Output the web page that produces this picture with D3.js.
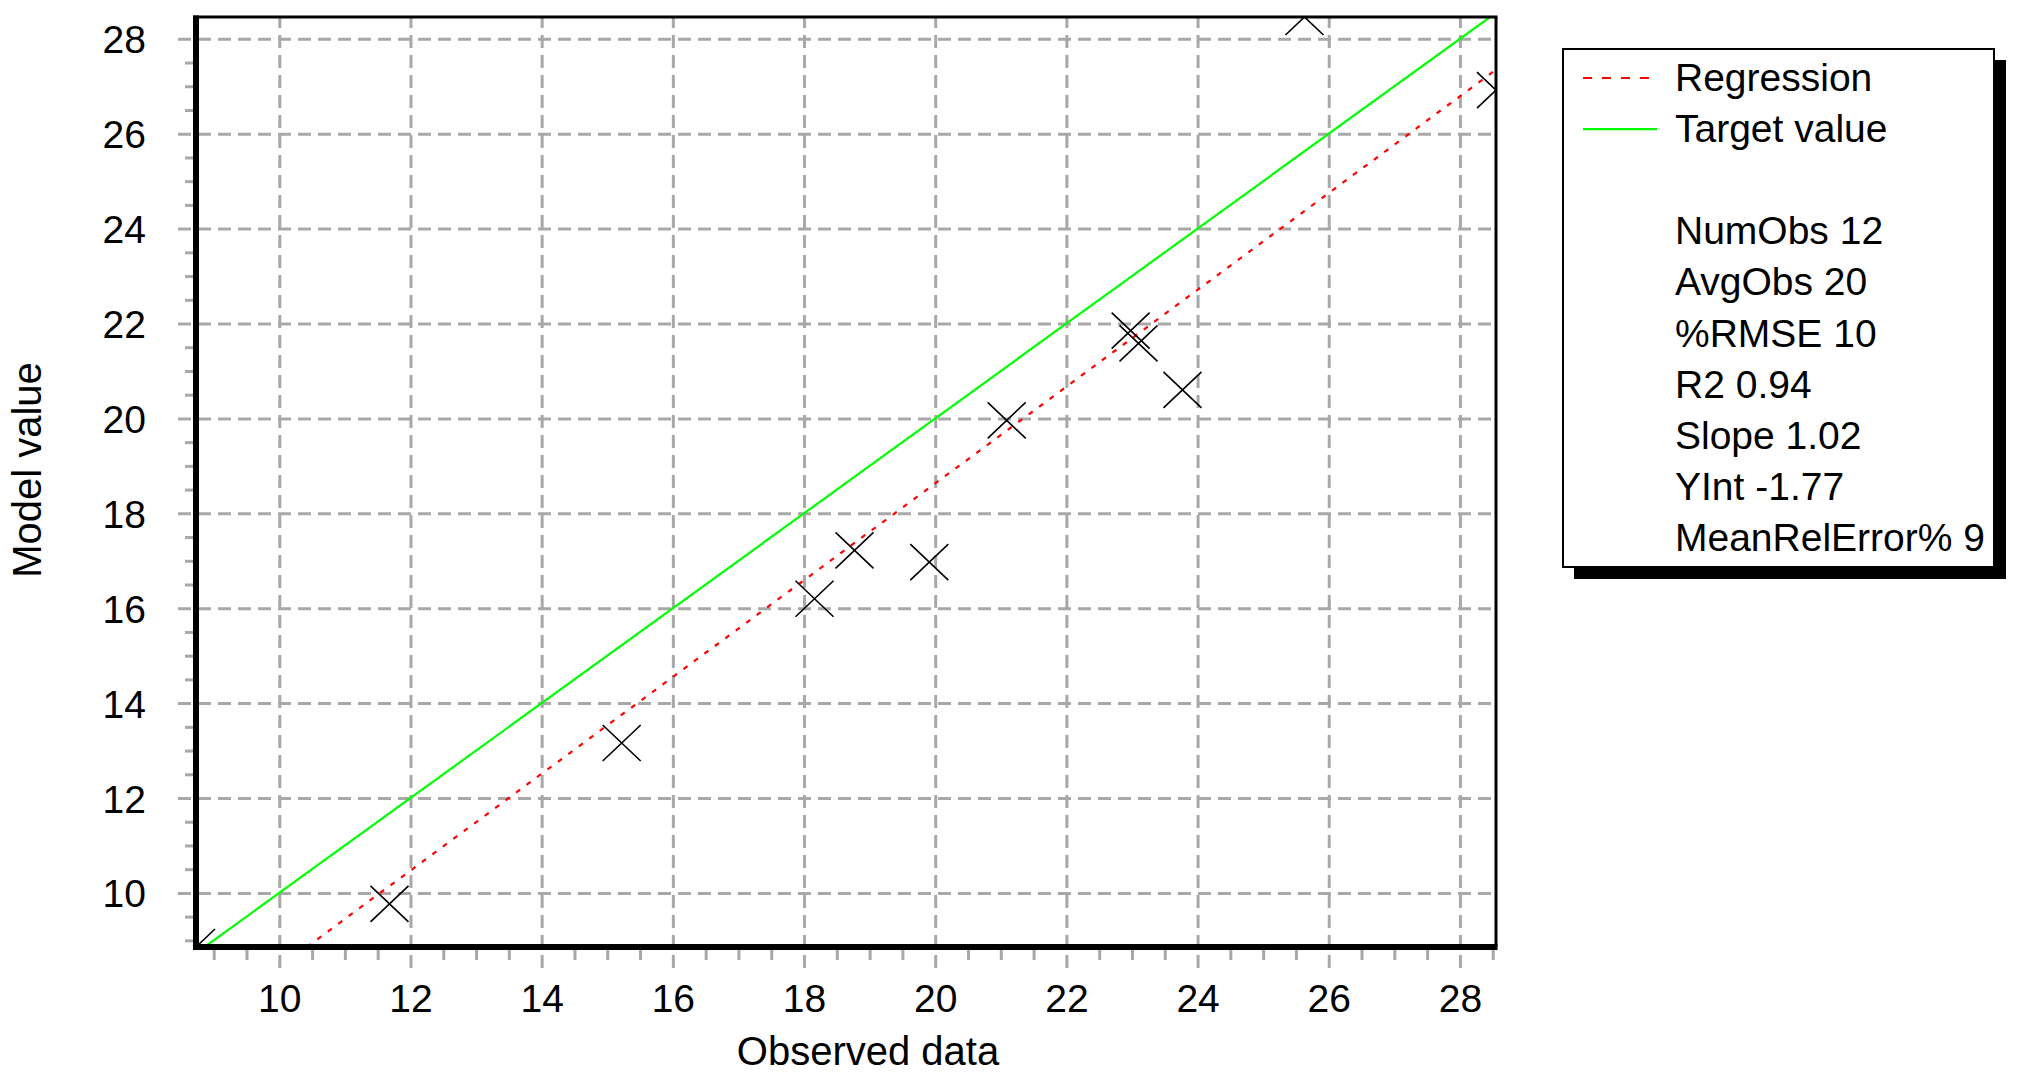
<!DOCTYPE html>
<html>
<head>
<meta charset="utf-8">
<script src="https://cdn.jsdelivr.net/npm/d3@7"></script>
<style>
  html, body { margin: 0; padding: 0; background: #fff; }
  svg { display: block; }
  text { font-family: "Liberation Sans", Arial, sans-serif; fill: #000; }
</style>
</head>
<body>
<svg id="chart" width="2020" height="1080"></svg>
<script>
// ---- data ----
const obsX   = [8.73, 11.68, 15.22, 18.16, 18.77, 19.91, 21.09, 22.98, 23.10, 23.77, 25.63, 28.55];
const modelY = [8.86,  9.77, 13.16, 16.20, 17.22, 16.97, 19.96, 21.85, 21.58, 20.60, 28.46, 26.92];

const regLineX = [10.42, 28.55];
const regLineY = [8.86, 27.35];
const targetLineX = [8.86, 28.46];
const targetLineY = [8.86, 28.46];

const xTicks = [10, 12, 14, 16, 18, 20, 22, 24, 26, 28];
const yTicks = [10, 12, 14, 16, 18, 20, 22, 24, 26, 28];
const xDomain = [8.73, 28.55];
const yDomain = [8.86, 28.46];

const legendSeries = ["Regression", "Target value"];
const statLabels = ["NumObs 12", "AvgObs 20", "%RMSE 10", "R2 0.94", "Slope 1.02", "YInt -1.77", "MeanRelError% 9"];

const xTitle = "Observed data";
const yTitle = "Model value";

// ---- layout ----
const L = 196, R = 1496, T = 17, B = 947;
const svg = d3.select("#chart");
const x = d3.scaleLinear().domain(xDomain).range([L, R]);
const y = d3.scaleLinear().domain(yDomain).range([B, T]);

const gridColor = "#a8a8a8";
const minorX = d3.range(9, 28.6, 0.5).filter(v => v % 2 !== 0);
const minorY = d3.range(9, 28.5, 0.5).filter(v => v % 2 !== 0);

// clip
svg.append("defs").append("clipPath").attr("id", "plotclip")
  .append("rect").attr("x", L).attr("y", T).attr("width", R - L).attr("height", B - T);

// grid: vertical (major x)
svg.append("g")
  .attr("transform", `translate(0,${B + 21})`)
  .call(d3.axisTop(x).tickValues(xTicks).tickSize(B + 21 - T).tickFormat(""))
  .call(g => g.select(".domain").remove())
  .call(g => g.selectAll("line").attr("stroke", gridColor).attr("stroke-width", 3).attr("stroke-dasharray", "13,7"));

// grid: horizontal (major y)
svg.append("g")
  .attr("transform", `translate(${L - 18},0)`)
  .call(d3.axisRight(y).tickValues(yTicks).tickSize(R - L + 18).tickFormat(""))
  .call(g => g.select(".domain").remove())
  .call(g => g.selectAll("line").attr("stroke", gridColor).attr("stroke-width", 3).attr("stroke-dasharray", "13,7"));

// minor ticks
svg.append("g")
  .attr("transform", `translate(0,${B})`)
  .call(d3.axisBottom(x).tickValues(minorX).tickSize(13).tickFormat(""))
  .call(g => g.select(".domain").remove())
  .call(g => g.selectAll("line").attr("stroke", gridColor).attr("stroke-width", 3));
svg.append("g")
  .attr("transform", `translate(${L},0)`)
  .call(d3.axisLeft(y).tickValues(minorY).tickSize(11).tickFormat(""))
  .call(g => g.select(".domain").remove())
  .call(g => g.selectAll("line").attr("stroke", gridColor).attr("stroke-width", 3));

// tick labels
svg.append("g")
  .attr("transform", `translate(0,${B})`)
  .call(d3.axisBottom(x).tickValues(xTicks).tickSize(0).tickPadding(0))
  .call(g => g.select(".domain").remove())
  .call(g => g.selectAll("text").attr("y", 65).attr("dy", null)
      .style("font-size", "39px").style("font-family", "Liberation Sans, Arial, sans-serif").attr("fill", "#000"));
svg.append("g")
  .attr("transform", `translate(146,0)`)
  .call(d3.axisLeft(y).tickValues(yTicks).tickSize(0).tickPadding(0))
  .call(g => g.select(".domain").remove())
  .call(g => g.selectAll("text").attr("x", 0).attr("dy", "0.36em")
      .style("font-size", "39px").style("font-family", "Liberation Sans, Arial, sans-serif").attr("fill", "#000"));

// lines
const plot = svg.append("g").attr("clip-path", "url(#plotclip)");
const line = d3.line().x(d => x(d[0])).y(d => y(d[1]));

plot.append("path")
  .datum(targetLineX.map((v, i) => [v, targetLineY[i]]))
  .attr("d", line).attr("fill", "none").attr("stroke", "#00ff00").attr("stroke-width", 2.2);

plot.append("path")
  .datum(regLineX.map((v, i) => [v, regLineY[i]]))
  .attr("d", line).attr("fill", "none").attr("stroke", "#ff0000").attr("stroke-width", 2.2)
  .attr("stroke-dasharray", "5,8");

// X markers
const hx = 19, hy = 18;
plot.selectAll("path.pt")
  .data(obsX.map((v, i) => [v, modelY[i]]))
  .join("path")
  .attr("class", "pt")
  .attr("d", d => {
    const cx = x(d[0]), cy = y(d[1]);
    return `M${cx - hx},${cy - hy}L${cx + hx},${cy + hy}M${cx + hx},${cy - hy}L${cx - hx},${cy + hy}`;
  })
  .attr("fill", "none").attr("stroke", "#000").attr("stroke-width", 1.6);

// frame
svg.append("line").attr("x1", L - 3).attr("x2", R + 1.5).attr("y1", T).attr("y2", T).attr("stroke", "#000").attr("stroke-width", 3);
svg.append("line").attr("x1", R).attr("x2", R).attr("y1", T).attr("y2", B).attr("stroke", "#000").attr("stroke-width", 3);
svg.append("line").attr("x1", L).attr("x2", L).attr("y1", T - 1.5).attr("y2", B + 3).attr("stroke", "#000").attr("stroke-width", 6);
svg.append("line").attr("x1", L - 3).attr("x2", R + 1.5).attr("y1", B).attr("y2", B).attr("stroke", "#000").attr("stroke-width", 6);

// axis titles
svg.append("text").attr("x", 868).attr("y", 1065).attr("text-anchor", "middle")
  .style("font-size", "40px").text(xTitle);
svg.append("text").attr("transform", "translate(41,470) rotate(-90)").attr("text-anchor", "middle")
  .style("font-size", "40px").text(yTitle);

// legend
const bx = 1563, by = 49, bw = 431, bh = 518;
const lg = svg.append("g");
lg.append("rect").attr("x", bx + 11).attr("y", by + 11).attr("width", bw + 1).attr("height", bh + 1).attr("fill", "#000");
lg.append("rect").attr("x", bx).attr("y", by).attr("width", bw).attr("height", bh)
  .attr("fill", "#fff").attr("stroke", "#000").attr("stroke-width", 2);

const rowY = i => 91 + 51.1 * i;
lg.append("line").attr("x1", 1583).attr("x2", 1655).attr("y1", rowY(0) - 13).attr("y2", rowY(0) - 13)
  .attr("stroke", "#ff0000").attr("stroke-width", 2.2).attr("stroke-dasharray", "9,10");
lg.append("line").attr("x1", 1583).attr("x2", 1657).attr("y1", rowY(1) - 13).attr("y2", rowY(1) - 13)
  .attr("stroke", "#00ff00").attr("stroke-width", 2.2);

legendSeries.forEach((t, i) => {
  lg.append("text").attr("x", 1675).attr("y", rowY(i)).style("font-size", "39px").text(t);
});
statLabels.forEach((t, i) => {
  lg.append("text").attr("x", 1675).attr("y", rowY(i + 3)).style("font-size", "39px").text(t);
});
</script>
</body>
</html>
